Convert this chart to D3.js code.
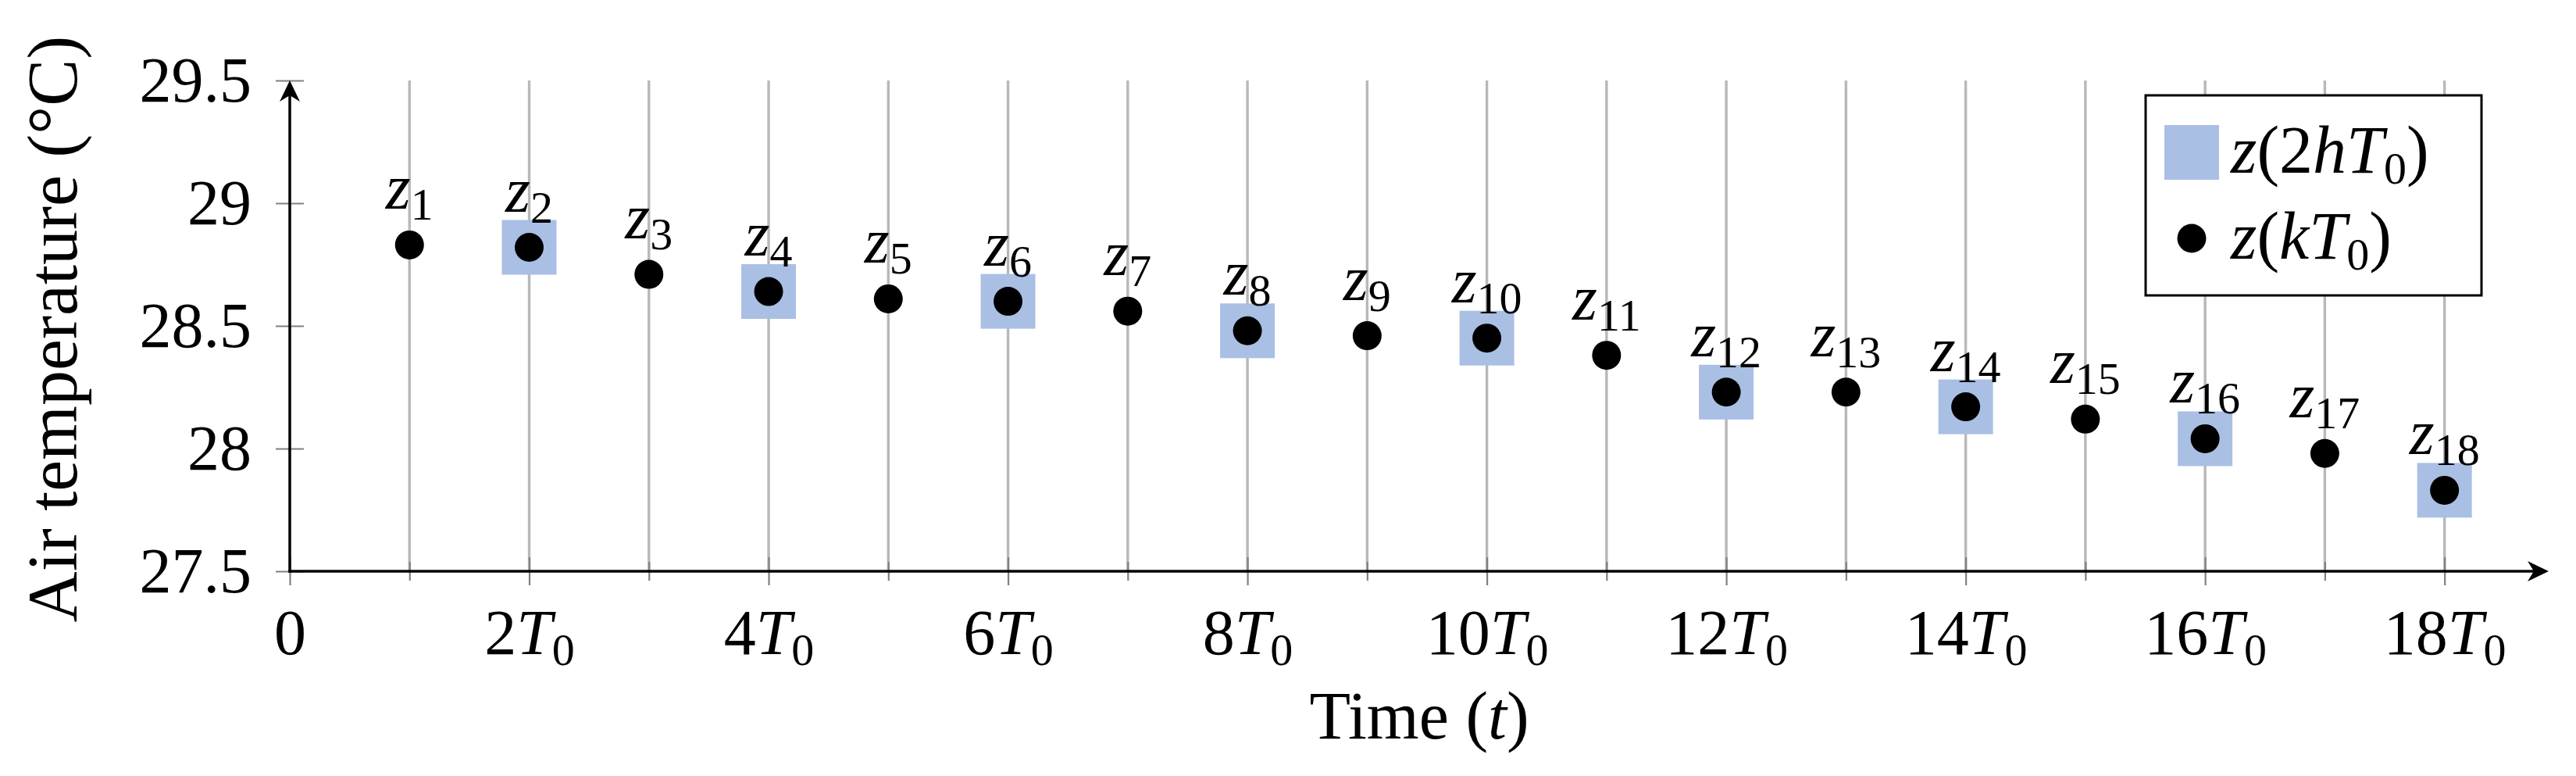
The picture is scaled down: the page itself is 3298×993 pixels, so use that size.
<!DOCTYPE html>
<html>
<head>
<meta charset="utf-8">
<title>Air temperature samples</title>
<style>
  body { margin: 0; background: #fff; }
  text { font-family: "Liberation Serif", "DejaVu Serif", serif; fill: #000; }
</style>
</head>
<body>
<svg width="3298" height="993"></svg>
<script src="https://d3js.org/d3.v7.min.js"></script>
<script>
// values
var steps = [1, 2, 3, 4, 5, 6, 7, 8, 9, 10, 11, 12, 13, 14, 15, 16, 17, 18];
var temps = [28.83, 28.82, 28.71, 28.64, 28.61, 28.60, 28.56, 28.48, 28.46,
             28.45, 28.38, 28.23, 28.23, 28.17, 28.12, 28.04, 27.98, 27.83];
var sampleSteps = [2, 4, 6, 8, 10, 12, 14, 16, 18];
var sampleTemps = [28.82, 28.64, 28.60, 28.48, 28.45, 28.23, 28.17, 28.04, 27.83];

var yTicks = [27.5, 28, 28.5, 29, 29.5];
var yTickLabels = ["27.5", "28", "28.5", "29", "29.5"];
var xMajor = [0, 2, 4, 6, 8, 10, 12, 14, 16, 18];
var xMinor = [1, 3, 5, 7, 9, 11, 13, 15, 17];
var xTickCoef = ["0", "2", "4", "6", "8", "10", "12", "14", "16", "18"];

var legendItems = [
  { shape: "square", label: [["z","i"],["(","r"],["2","r"],["h","i"],["T","i"],["0","s"],[")","r"]] },
  { shape: "circle", label: [["z","i"],["(","r"],["k","i"],["T","i"],["0","s"],[")","r"]] }
];

var squareColor = "#aabfe4";
var fontSize = 82, subSize = 58, subShift = 14;

var svg = d3.select("svg");
var x = d3.scaleLinear().domain([0, 18.87]).range([371, 3263]);
var y = d3.scaleLinear().domain([27.5, 29.5]).range([731, 103]);

// write math-like text: i = italic, r = roman, s = subscript
function mathText(sel, parts) {
  var lowered = false;
  parts.forEach(function(p) {
    var t = sel.append("tspan").text(p[0]);
    if (p[1] === "i") t.attr("font-style", "italic");
    if (p[1] === "s") {
      t.attr("font-size", subSize);
      if (!lowered) { t.attr("dy", subShift); lowered = true; }
    } else if (lowered) {
      t.attr("dy", -subShift); lowered = false;
    }
  });
  return sel;
}

// vertical grid
svg.append("g").selectAll("line").data(steps).join("line")
  .attr("x1", function(d) { return x(d); })
  .attr("x2", function(d) { return x(d); })
  .attr("y1", y(29.5)).attr("y2", y(27.5))
  .attr("stroke", "#b8b8b8").attr("stroke-width", 3.4);

// y axis ticks + labels
var yAxis = svg.append("g").attr("transform", "translate(" + x(0) + ",0)")
  .call(d3.axisLeft(y).tickValues(yTicks)
    .tickFormat(function(d, i) { return yTickLabels[i]; })
    .tickSize(18).tickPadding(31));
yAxis.attr("font-family", null).attr("font-size", fontSize);
yAxis.select(".domain").remove();
yAxis.selectAll(".tick line").attr("x1", 18).attr("stroke", "#808080").attr("stroke-width", 2.2);

// x axis major ticks
var xAxis = svg.append("g").attr("transform", "translate(0," + y(27.5) + ")")
  .call(d3.axisBottom(x).tickValues(xMajor).tickFormat("").tickSize(18));
xAxis.attr("font-family", null).attr("font-size", fontSize);
xAxis.select(".domain").remove();
xAxis.selectAll(".tick line").attr("y1", -18).attr("stroke", "#808080").attr("stroke-width", 2.2);
xAxis.selectAll(".tick text").remove();
xAxis.selectAll(".tick").each(function(d, i) {
  var t = d3.select(this).append("text").attr("y", 106).attr("text-anchor", "middle").attr("fill", "#000");
  if (xTickCoef[i] === "0") t.text("0");
  else mathText(t, [[xTickCoef[i], "r"], ["T", "i"], ["0", "s"]]);
});

// x axis minor ticks
var xMinorAxis = svg.append("g").attr("transform", "translate(0," + y(27.5) + ")")
  .call(d3.axisBottom(x).tickValues(xMinor).tickFormat("").tickSize(12));
xMinorAxis.select(".domain").remove();
xMinorAxis.selectAll(".tick line").attr("y1", -12).attr("stroke", "#808080").attr("stroke-width", 2.2);

// axis lines with stealth arrows
var axisG = svg.append("g");
axisG.append("line").attr("x1", x(0)).attr("x2", x(0)).attr("y1", y(27.5) + 1.7).attr("y2", y(29.5) + 12)
  .attr("stroke", "#000").attr("stroke-width", 3.5);
axisG.append("line").attr("x1", x(0) - 1.7).attr("x2", x.range()[1] - 12).attr("y1", y(27.5)).attr("y2", y(27.5))
  .attr("stroke", "#000").attr("stroke-width", 3.5);
var stealth = "M0,0 L13,27 L0,19 L-13,27 Z";
axisG.append("path").attr("d", stealth).attr("transform", "translate(" + x(0) + "," + y(29.5) + ")");
axisG.append("path").attr("d", stealth).attr("transform", "translate(" + x.range()[1] + "," + y(27.5) + ") rotate(90)");

// squares z(2hT0)
svg.append("g").selectAll("rect").data(sampleSteps).join("rect")
  .attr("x", function(d) { return x(d) - 35; })
  .attr("y", function(d, i) { return y(sampleTemps[i]) - 35; })
  .attr("width", 70).attr("height", 70)
  .attr("fill", squareColor);

// circles z(kT0)
svg.append("g").selectAll("circle").data(steps).join("circle")
  .attr("cx", function(d) { return x(d); })
  .attr("cy", function(d, i) { return y(temps[i]); })
  .attr("r", 18.5).attr("fill", "#000");

// point labels z_k
svg.append("g").attr("font-size", fontSize).selectAll("text").data(steps).join("text")
  .attr("x", function(d) { return x(d); })
  .attr("y", function(d, i) { return y(temps[i]) - 46; })
  .attr("text-anchor", "middle")
  .each(function(d) { mathText(d3.select(this), [["z", "i"], [String(d), "s"]]); });

// axis titles
svg.append("text").attr("font-size", 90).attr("text-anchor", "middle")
  .attr("transform", "translate(98," + ((y(27.5) + y(29.5)) / 2 + 4) + ") rotate(-90)")
  .text("Air temperature (°C)");
mathText(svg.append("text").attr("font-size", 86).attr("text-anchor", "middle")
  .attr("x", (x(0) + x.range()[1]) / 2).attr("y", 945),
  [["Time (", "r"], ["t", "i"], [")", "r"]]);

// legend
var legend = svg.append("g").attr("font-size", 86);
legend.append("rect").attr("x", 2747).attr("y", 122).attr("width", 430).attr("height", 256)
  .attr("fill", "#fff").attr("stroke", "#000").attr("stroke-width", 3);
legendItems.forEach(function(item, i) {
  var cy = 195 + i * 110;
  if (item.shape === "square")
    legend.append("rect").attr("x", 2771).attr("y", cy - 35).attr("width", 70).attr("height", 70).attr("fill", squareColor);
  else
    legend.append("circle").attr("cx", 2806).attr("cy", cy).attr("r", 18.5).attr("fill", "#000");
  mathText(legend.append("text").attr("x", 2856).attr("y", cy + 26), item.label);
});
</script>
</body>
</html>
